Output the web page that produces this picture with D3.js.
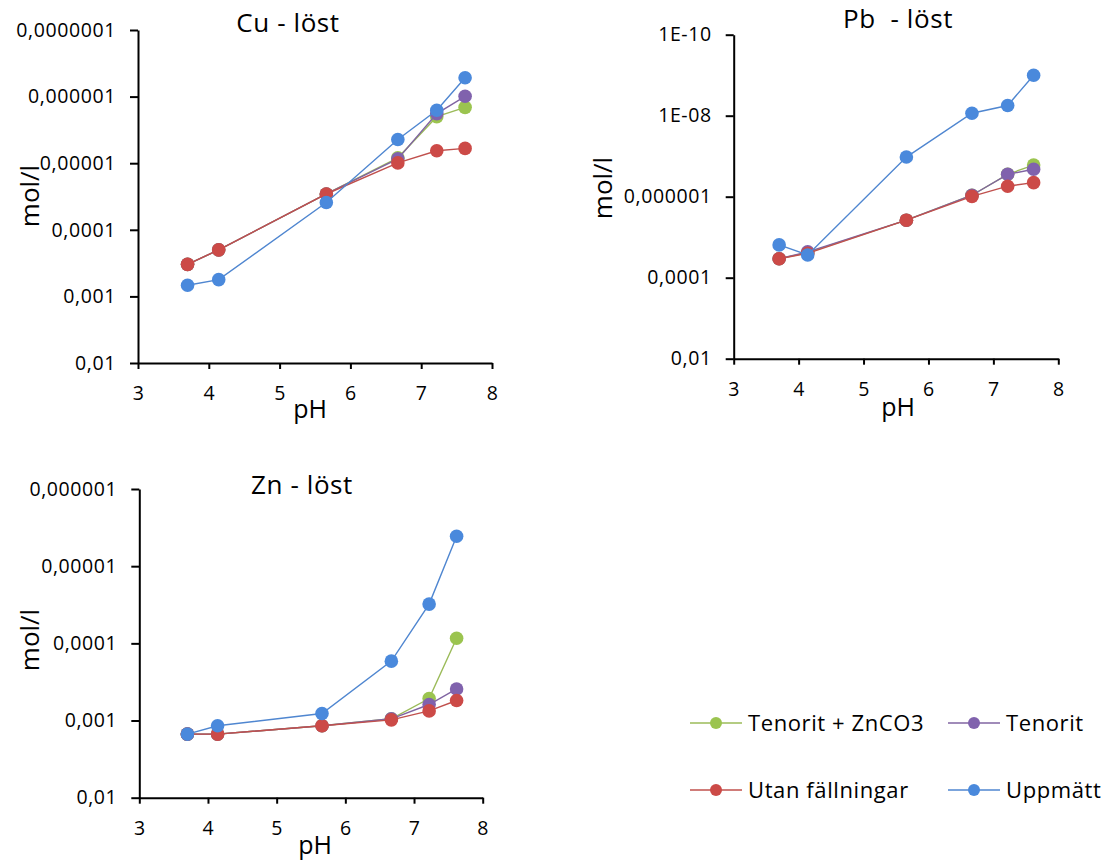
<!DOCTYPE html>
<html>
<head>
<meta charset="utf-8">
<script src="https://cdn.jsdelivr.net/npm/d3@7"></script>
<style>
  body { margin: 0; background: #fff; }
  svg text { font-family: "Open Sans", "Liberation Sans", sans-serif; fill: #000; }
</style>
</head>
<body>
<svg id="chart" width="1115" height="861"></svg>
<script>
// pH values shared by all series
const pH = [3.7, 4.14, 5.66, 6.67, 7.22, 7.62];

const seriesNames = ['Tenorit + ZnCO3', 'Tenorit', 'Utan fällningar', 'Uppmätt'];
const seriesColors = ['#9bbb59', '#8064a2', '#c0504d', '#4f86d0'];
const markerColors = ['#9bc44f', '#8062ad', '#cc4a47', '#4a89dc'];

// Cu - löst (mol/l)
const cuTenoritZn = [3.3e-4, 2.0e-4, 2.9e-5, 8.3e-6, 2.0e-6, 1.45e-6];
const cuTenorit = [3.3e-4, 2.0e-4, 2.9e-5, 8.6e-6, 1.8e-6, 9.9e-7];
const cuUtan = [3.3e-4, 2.0e-4, 2.9e-5, 9.9e-6, 6.5e-6, 6.0e-6];
const cuUppmatt = [6.8e-4, 5.6e-4, 3.9e-5, 4.4e-6, 1.6e-6, 5.2e-7];

// Pb - löst (mol/l)
const pbTenoritZn = [3.4e-5, 2.4e-5, 3.8e-6, 9.2e-7, 2.8e-7, 1.66e-7];
const pbTenorit = [3.4e-5, 2.3e-5, 3.8e-6, 9.2e-7, 2.8e-7, 2.1e-7];
const pbUtan = [3.4e-5, 2.5e-5, 3.8e-6, 9.8e-7, 5.5e-7, 4.5e-7];
const pbUppmatt = [1.55e-5, 2.75e-5, 1.05e-7, 8.7e-9, 5.6e-9, 1.0e-9];

// Zn - löst (mol/l)
const znTenoritZn = [1.5e-3, 1.5e-3, 1.17e-3, 9.5e-4, 5.2e-4, 8.6e-5];
const znTenorit = [1.5e-3, 1.5e-3, 1.17e-3, 9.5e-4, 6.2e-4, 3.9e-4];
const znUtan = [1.5e-3, 1.5e-3, 1.17e-3, 9.8e-4, 7.5e-4, 5.5e-4];
const znUppmatt = [1.5e-3, 1.17e-3, 8.1e-4, 1.7e-4, 3.1e-5, 4.1e-6];

// Axis ticks
const xTicks = [3, 4, 5, 6, 7, 8];
const cuYTicks = [1e-7, 1e-6, 1e-5, 1e-4, 1e-3, 1e-2];
const cuYLabels = ['0,0000001', '0,000001', '0,00001', '0,0001', '0,001', '0,01'];
const pbYTicks = [1e-10, 1e-8, 1e-6, 1e-4, 1e-2];
const pbYLabels = ['1E-10', '1E-08', '0,000001', '0,0001', '0,01'];
const znYTicks = [1e-6, 1e-5, 1e-4, 1e-3, 1e-2];
const znYLabels = ['0,000001', '0,00001', '0,0001', '0,001', '0,01'];

const MARKER_R = 6.8;
const svg = d3.select('#chart');

const panels = [
  {
    title: 'Cu - löst', series: [cuTenoritZn, cuTenorit, cuUtan, cuUppmatt],
    yTicks: cuYTicks, yLabels: cuYLabels,
    left: 138, right: 492, top: 30, bottom: 363,
    titleX: 288, titleY: 32, molX: 30, molY: 196, phX: 310, phY: 418,
  },
  {
    title: 'Pb  - löst', series: [pbTenoritZn, pbTenorit, pbUtan, pbUppmatt],
    yTicks: pbYTicks, yLabels: pbYLabels,
    left: 733.7, right: 1058.3, top: 34.7, bottom: 358.7,
    titleX: 898, titleY: 28, molX: 603, molY: 188, phX: 898, phY: 416,
  },
  {
    title: 'Zn - löst', series: [znTenoritZn, znTenorit, znUtan, znUppmatt],
    yTicks: znYTicks, yLabels: znYLabels,
    left: 139.3, right: 482.7, top: 489, bottom: 797.7,
    titleX: 302, titleY: 494, molX: 30, molY: 640, phX: 315, phY: 854,
  },
];

const drawPanel = (p) => {
  const g = svg.append('g');

  const x = d3.scaleLinear().domain([3, 8]).range([p.left, p.right]);
  const y = d3.scaleLog()
    .domain([p.yTicks[0], p.yTicks[p.yTicks.length - 1]])
    .range([p.top, p.bottom]);

  // y axis
  const yAxis = g.append('g')
    .attr('transform', `translate(${p.left},0)`)
    .call(d3.axisLeft(y)
      .tickValues(p.yTicks)
      .tickFormat((d, i) => p.yLabels[i])
      .tickSize(8)
      .tickSizeOuter(0)
      .tickPadding(14));

  // x axis
  const xAxis = g.append('g')
    .attr('transform', `translate(0,${p.bottom})`)
    .call(d3.axisBottom(x)
      .tickValues(xTicks)
      .tickFormat(d3.format('d'))
      .tickSize(6)
      .tickSizeOuter(0)
      .tickPadding(17));

  [yAxis, xAxis].forEach(ax => {
    ax.select('.domain').attr('stroke', '#000').attr('stroke-width', 2);
    ax.selectAll('.tick line').attr('stroke', '#000').attr('stroke-width', 2);
    ax.selectAll('.tick text')
      .style('font-size', '19.5px')
      .style('letter-spacing', '0.6px');
  });

  // series
  const line = d3.line()
    .x((d, i) => x(pH[i]))
    .y(d => y(d));

  p.series.forEach((values, si) => {
    g.append('path')
      .datum(values)
      .attr('fill', 'none')
      .attr('stroke', seriesColors[si])
      .attr('stroke-width', 1.4)
      .attr('d', line);

    g.selectAll(null)
      .data(values)
      .enter()
      .append('circle')
      .attr('cx', (d, i) => x(pH[i]))
      .attr('cy', d => y(d))
      .attr('r', MARKER_R)
      .attr('fill', markerColors[si]);
  });

  // title and axis labels
  g.append('text')
    .attr('x', p.titleX)
    .attr('y', p.titleY)
    .attr('text-anchor', 'middle')
    .style('font-size', '26px')
    .style('letter-spacing', '0.6px')
    .style('white-space', 'pre')
    .text(p.title);

  g.append('text')
    .attr('transform', `translate(${p.molX},${p.molY}) rotate(-90)`)
    .attr('text-anchor', 'middle')
    .attr('dy', '0.35em')
    .style('font-size', '26px')
    .text('mol/l');

  g.append('text')
    .attr('x', p.phX)
    .attr('y', p.phY)
    .attr('text-anchor', 'middle')
    .style('font-size', '25px')
    .text('pH');
};

panels.forEach(drawPanel);

// legend
const legendItems = [
  { idx: 0, x: 690, y: 723 },
  { idx: 1, x: 948, y: 723 },
  { idx: 2, x: 690, y: 790 },
  { idx: 3, x: 948, y: 790 },
];

const legend = svg.append('g');
legendItems.forEach(({ idx, x, y }) => {
  const item = legend.append('g').attr('transform', `translate(${x},${y})`);
  item.append('line')
    .attr('x1', 0).attr('x2', 52)
    .attr('y1', 0).attr('y2', 0)
    .attr('stroke', seriesColors[idx])
    .attr('stroke-width', 1.6);
  item.append('circle')
    .attr('cx', 26).attr('cy', 0)
    .attr('r', 6)
    .attr('fill', markerColors[idx]);
  item.append('text')
    .attr('x', 58)
    .attr('y', 0)
    .attr('dy', '0.35em')
    .style('font-size', '22px')
    .style('letter-spacing', '0.6px')
    .text(seriesNames[idx]);
});
</script>
</body>
</html>
